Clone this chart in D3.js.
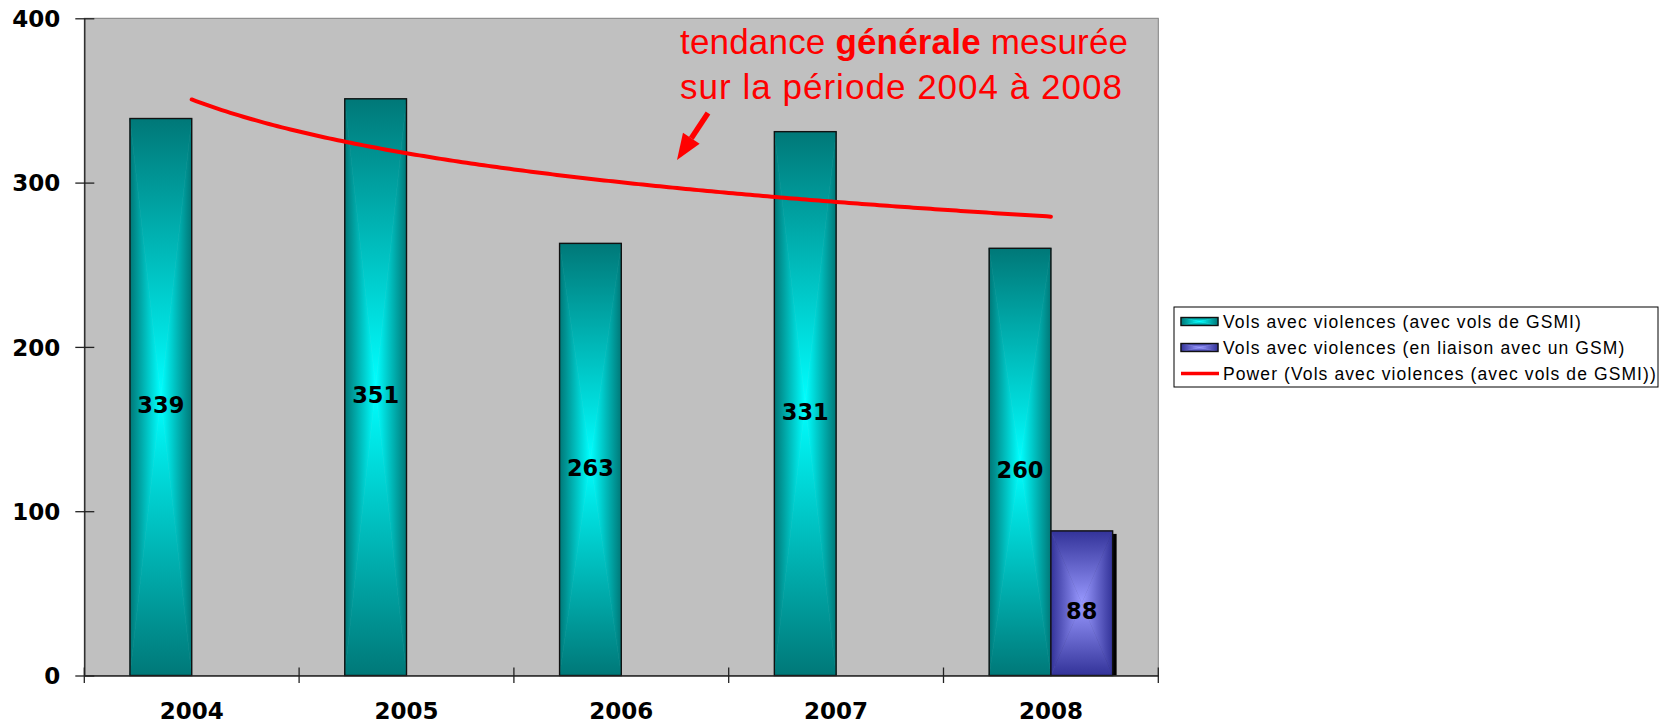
<!DOCTYPE html>
<html>
<head>
<meta charset="utf-8">
<script src="https://cdn.jsdelivr.net/npm/d3@7"></script>
<style>
  body { margin: 0; background: #fff; }
  svg { display: block; }
</style>
</head>
<body>
<svg></svg>
<script>
var width = 1668;
var height = 724;

// data
var years = ['2004', '2005', '2006', '2007', '2008'];
var volsGSMI = [339, 351, 263, 331, 260];
var volsGSM = [null, null, null, null, 88];
var yTicks = [0, 100, 200, 300, 400];
var seriesNames = [
  'Vols avec violences (avec vols de GSMI)',
  'Vols avec violences (en liaison avec un GSM)',
  'Power (Vols avec violences (avec vols de GSMI))'
];

var plot = { left: 84.3, right: 1158.3, top: 18.3, bottom: 675.5 };

var svg = d3.select('svg')
    .attr('width', width)
    .attr('height', height)
    .style('font-family', 'Liberation Sans, Arial, sans-serif');

var defs = svg.append('defs');

// four gradients per colour, one for each triangle of a "from centre" fill
function makeGrads (id, dark, light) {
  var dirs = {
    top:    [0, 0, 0, 1, dark, light],
    bottom: [0, 0, 0, 1, light, dark],
    left:   [0, 0, 1, 0, dark, light],
    right:  [0, 0, 1, 0, light, dark]
  };
  Object.keys(dirs).forEach(function (k) {
    var d = dirs[k];
    var g = defs.append('linearGradient')
        .attr('id', id + '-' + k)
        .attr('x1', d[0]).attr('y1', d[1]).attr('x2', d[2]).attr('y2', d[3]);
    g.append('stop').attr('offset', 0).attr('stop-color', d[4]);
    g.append('stop').attr('offset', 1).attr('stop-color', d[5]);
  });
}
makeGrads('teal', '#007878', '#00ffff');
makeGrads('blue', '#333399', '#9999ff');

function drawBox (g, x0, y0, w, h, id) {
  var cx = x0 + w / 2, cy = y0 + h / 2;
  var tris = {
    top:    [[x0, y0], [x0 + w, y0], [cx, cy]],
    bottom: [[x0, y0 + h], [x0 + w, y0 + h], [cx, cy]],
    left:   [[x0, y0], [x0, y0 + h], [cx, cy]],
    right:  [[x0 + w, y0], [x0 + w, y0 + h], [cx, cy]]
  };
  Object.keys(tris).forEach(function (k) {
    g.append('polygon')
      .attr('points', tris[k].map(function (p) { return p.join(','); }).join(' '))
      .attr('fill', 'url(#' + id + '-' + k + ')')
      .attr('stroke', 'url(#' + id + '-' + k + ')')
      .attr('stroke-width', 0.6);
  });
  g.append('rect')
    .attr('x', x0).attr('y', y0).attr('width', w).attr('height', h)
    .attr('fill', 'none')
    .attr('stroke', '#111')
    .attr('stroke-width', 1.4);
}

var x = d3.scaleBand()
    .domain(years)
    .range([plot.left, plot.right])
    .paddingInner(0)
    .paddingOuter(0);

var x1 = d3.scaleBand()
    .domain([0, 1])
    .range([0, x.bandwidth()])
    .paddingInner(0)
    .paddingOuter(0.74);

var y = d3.scaleLinear()
    .domain([0, 400])
    .range([plot.bottom, plot.top]);

// plot area
svg.append('rect')
  .attr('x', plot.left).attr('y', plot.top)
  .attr('width', plot.right - plot.left)
  .attr('height', plot.bottom - plot.top)
  .attr('fill', '#c0c0c0')
  .attr('stroke', '#808080')
  .attr('stroke-width', 1);

// bars
var bars = svg.append('g').attr('class', 'bars');
var series = [
  { values: volsGSMI, id: 'teal', slot: 0, shadow: false },
  { values: volsGSM, id: 'blue', slot: 1, shadow: true }
];
series.forEach(function (s) {
  s.values.forEach(function (v, i) {
    if (v == null) return;
    var bx = x(years[i]) + x1(s.slot);
    var by = y(v);
    var bw = x1.bandwidth();
    var bh = y(0) - y(v);
    var g = bars.append('g');
    if (s.shadow) {
      g.append('rect')
        .attr('x', bx + 4).attr('y', by + 3)
        .attr('width', bw).attr('height', bh - 3)
        .attr('fill', '#000');
    }
    drawBox(g, bx, by, bw, bh, s.id);
  });
});

// data labels, roughly in the middle of each bar
series.forEach(function (s) {
  s.values.forEach(function (v, i) {
    if (v == null) return;
    svg.append('text')
      .attr('x', x(years[i]) + x1(s.slot) + x1.bandwidth() / 2)
      .attr('y', y(v / 2) + 8)
      .attr('dy', '0.36em')
      .attr('text-anchor', 'middle')
      .style('font-family', 'DejaVu Sans, Verdana, sans-serif')
      .style('font-weight', 'bold')
      .style('font-size', '22.5px')
      .attr('fill', '#000')
      .text(v);
  });
});

// power trend line fitted to the first series (least squares on logs)
var lx = volsGSMI.map(function (d, i) { return Math.log(i + 1); });
var ly = volsGSMI.map(function (d) { return Math.log(d); });
var mx = d3.mean(lx), my = d3.mean(ly);
var sxy = d3.sum(lx, function (d, i) { return (d - mx) * (ly[i] - my); });
var sxx = d3.sum(lx, function (d) { return (d - mx) * (d - mx); });
var b = sxy / sxx;
var a = Math.exp(my - b * mx);

var tx = d3.scaleLinear()
    .domain([1, years.length])
    .range([x(years[0]) + x.bandwidth() / 2, x(years[years.length - 1]) + x.bandwidth() / 2]);

var trendPts = d3.range(1, years.length + 0.001, 0.02);
svg.append('path')
  .datum(trendPts)
  .attr('fill', 'none')
  .attr('stroke', '#ff0000')
  .attr('stroke-width', 4)
  .attr('stroke-linecap', 'round')
  .attr('d', d3.line()
    .x(function (t) { return tx(t); })
    .y(function (t) { return y(a * Math.pow(t, b)); }));

// y axis
var yAxis = svg.append('g')
    .attr('transform', 'translate(' + plot.left + ',0)')
    .call(d3.axisLeft(y).tickValues(yTicks).tickSizeOuter(0));
yAxis.select('.domain').attr('stroke', '#222').attr('stroke-width', 1.3);
yAxis.selectAll('.tick line')
  .attr('x1', -9).attr('x2', 10)
  .attr('stroke', '#222').attr('stroke-width', 1.3);
yAxis.selectAll('.tick text')
  .attr('x', -24)
  .attr('dy', '0.36em')
  .style('font-family', 'DejaVu Sans, Verdana, sans-serif')
  .style('font-weight', 'bold')
  .style('font-size', '23px')
  .attr('fill', '#000');

// x axis
var xAxis = svg.append('g')
    .attr('transform', 'translate(0,' + plot.bottom + ')')
    .call(d3.axisBottom(x).tickSize(0).tickSizeOuter(0));
xAxis.select('.domain').attr('stroke', '#222').attr('stroke-width', 1.3);
xAxis.selectAll('.tick text')
  .attr('y', 43.5)
  .attr('dy', null)
  .style('font-family', 'DejaVu Sans, Verdana, sans-serif')
  .style('font-weight', 'bold')
  .style('font-size', '23px')
  .attr('fill', '#000');

var bounds = years.map(function (d) { return x(d); }).concat([plot.right]);
xAxis.selectAll('line.sep')
  .data(bounds)
  .enter().append('line')
  .attr('class', 'sep')
  .attr('x1', function (d) { return d; })
  .attr('x2', function (d) { return d; })
  .attr('y1', -8).attr('y2', 7.5)
  .attr('stroke', '#222')
  .attr('stroke-width', 1.3);

// annotation
var note = svg.append('g')
    .attr('fill', '#ff0000')
    .style('font-family', 'Liberation Sans, Arial, sans-serif')
    .style('font-size', '35px');
var l1 = note.append('text')
    .attr('x', 680).attr('y', 54)
    .attr('textLength', 448)
    .attr('lengthAdjust', 'spacing');
l1.append('tspan').text('tendance ');
l1.append('tspan').style('font-weight', 'bold').text('générale');
l1.append('tspan').text(' mesurée');
note.append('text')
  .attr('x', 680).attr('y', 99)
  .attr('textLength', 442)
  .attr('lengthAdjust', 'spacing')
  .text('sur la période 2004 à 2008');

// arrow pointing at the trend
var tail = [708, 113], tip = [677, 160];
var dx = tip[0] - tail[0], dy = tip[1] - tail[1];
var len = Math.sqrt(dx * dx + dy * dy);
var ux = dx / len, uy = dy / len;
var base = [tip[0] - 26 * ux, tip[1] - 26 * uy];
svg.append('line')
  .attr('x1', tail[0]).attr('y1', tail[1])
  .attr('x2', base[0]).attr('y2', base[1])
  .attr('stroke', '#ff0000')
  .attr('stroke-width', 5.5);
svg.append('polygon')
  .attr('points', [
    tip,
    [base[0] + 10 * -uy, base[1] + 10 * ux],
    [base[0] - 10 * -uy, base[1] - 10 * ux]
  ].map(function (p) { return p.join(','); }).join(' '))
  .attr('fill', '#ff0000');

// legend
var legend = svg.append('g').attr('transform', 'translate(1174,307)');
legend.append('rect')
  .attr('x', 0).attr('y', 0)
  .attr('width', 484).attr('height', 80)
  .attr('fill', '#fff')
  .attr('stroke', '#000')
  .attr('stroke-width', 1);

var rows = legend.selectAll('g.row')
    .data(seriesNames)
    .enter().append('g')
    .attr('class', 'row')
    .attr('transform', function (d, i) { return 'translate(0,' + (14.5 + i * 26) + ')'; });

rows.each(function (d, i) {
  var r = d3.select(this);
  if (i < 2) {
    drawBox(r, 7, -4, 37, 8, i === 0 ? 'teal' : 'blue');
  } else {
    r.append('line')
      .attr('x1', 7).attr('x2', 45)
      .attr('y1', 0).attr('y2', 0)
      .attr('stroke', '#ff0000')
      .attr('stroke-width', 3.5);
  }
  r.append('text')
    .attr('x', 49)
    .attr('y', 0)
    .attr('dy', '0.36em')
    .style('font-size', '17.5px')
    .style('letter-spacing', '1.1px')
    .attr('fill', '#000')
    .text(d);
});
</script>
</body>
</html>
